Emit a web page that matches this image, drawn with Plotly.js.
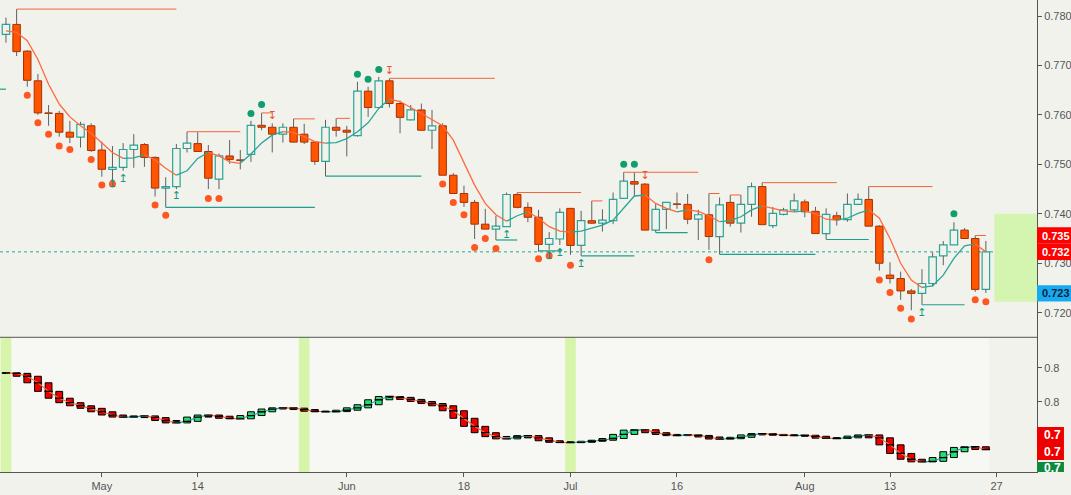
<!DOCTYPE html>
<html><head><meta charset="utf-8">
<script src="https://cdn.plot.ly/plotly-3.0.1.min.js"></script>
<style>html,body{margin:0;padding:0;background:#f2f2ed;}#chart{width:1071px;height:495px;}</style>
</head><body><div id="chart"></div>
<script>
// ---------- data ----------
const dates = ['2018-04-18','2018-04-19','2018-04-20','2018-04-23','2018-04-24','2018-04-25','2018-04-26','2018-04-27','2018-04-30',
'2018-05-01','2018-05-02','2018-05-03','2018-05-04','2018-05-07','2018-05-08','2018-05-09','2018-05-10','2018-05-11','2018-05-14','2018-05-15','2018-05-16','2018-05-17','2018-05-18','2018-05-21','2018-05-22','2018-05-23','2018-05-24','2018-05-25','2018-05-28','2018-05-29','2018-05-30','2018-05-31',
'2018-06-01','2018-06-04','2018-06-05','2018-06-06','2018-06-07','2018-06-08','2018-06-11','2018-06-12','2018-06-13','2018-06-14','2018-06-15','2018-06-18','2018-06-19','2018-06-20','2018-06-21','2018-06-22','2018-06-25','2018-06-26','2018-06-27','2018-06-28','2018-06-29',
'2018-07-02','2018-07-03','2018-07-04','2018-07-05','2018-07-06','2018-07-09','2018-07-10','2018-07-11','2018-07-12','2018-07-13','2018-07-16','2018-07-17','2018-07-18','2018-07-19','2018-07-20','2018-07-23','2018-07-24','2018-07-25','2018-07-26','2018-07-27','2018-07-30','2018-07-31',
'2018-08-01','2018-08-02','2018-08-03','2018-08-06','2018-08-07','2018-08-08','2018-08-09','2018-08-10','2018-08-13','2018-08-14','2018-08-15','2018-08-16','2018-08-17','2018-08-20','2018-08-21','2018-08-22','2018-08-23','2018-08-24'];

const open = [0.7763,0.7783,0.7729,0.7669,0.7604,0.7603,0.7565,0.7555,0.7578,0.7529,
0.7490,0.7494,0.7530,0.7540,0.7514,0.7452,0.7455,0.7532,0.7542,0.7526,
0.7470,0.7517,0.7509,0.7520,0.7579,0.7575,0.7561,0.7575,0.7561,0.7545,
0.7506,0.7575,0.7569,0.7558,0.7648,0.7615,0.7669,0.7623,0.7590,0.7610,
0.7569,0.7578,0.7478,0.7441,0.7423,0.7379,0.7369,0.7374,0.7439,0.7413,
0.7393,0.7338,0.7349,0.7411,0.7336,0.7386,0.7381,0.7386,0.7431,0.7465,
0.7460,0.7367,0.7409,0.7420,0.7419,0.7389,0.7398,0.7354,0.7423,0.7381,
0.7419,0.7455,0.7376,0.7399,0.7408,0.7424,0.7405,0.7360,0.7396,0.7388,
0.7419,0.7429,0.7375,0.7276,0.7269,0.7244,0.7239,0.7259,0.7315,0.7337,
0.7367,0.7350,0.7247];
const close = [0.7783,0.7728,0.7670,0.7604,0.7603,0.7565,0.7555,0.7581,0.7528,0.7490,
0.7494,0.7530,0.7539,0.7514,0.7452,0.7455,0.7532,0.7543,0.7526,0.7472,
0.7517,0.7510,0.7508,0.7579,0.7575,0.7561,0.7575,0.7545,0.7545,0.7506,
0.7575,0.7569,0.7565,0.7648,0.7615,0.7669,0.7623,0.7595,0.7610,0.7569,
0.7578,0.7478,0.7441,0.7423,0.7379,0.7369,0.7375,0.7439,0.7413,0.7393,
0.7338,0.7350,0.7403,0.7336,0.7386,0.7381,0.7387,0.7429,0.7466,0.7460,
0.7367,0.7409,0.7423,0.7419,0.7389,0.7398,0.7354,0.7418,0.7381,0.7419,
0.7455,0.7378,0.7401,0.7408,0.7426,0.7404,0.7360,0.7399,0.7388,0.7419,
0.7429,0.7375,0.7300,0.7269,0.7244,0.7239,0.7259,0.7313,0.7337,0.7367,
0.7350,0.7247,0.7323];
const high = [0.7797,0.7814,0.7731,0.7683,0.7620,0.7608,0.7588,0.7586,0.7583,0.7546,
0.7537,0.7543,0.7561,0.7543,0.7516,0.7474,0.7541,0.7566,0.7565,0.7539,
0.7522,0.7549,0.7529,0.7588,0.7604,0.7583,0.7583,0.7592,0.7582,0.7545,
0.7590,0.7593,0.7578,0.7667,0.7657,0.7677,0.7674,0.7629,0.7620,0.7623,
0.7610,0.7583,0.7482,0.7457,0.7428,0.7410,0.7396,0.7443,0.7443,0.7423,
0.7408,0.7363,0.7411,0.7411,0.7406,0.7426,0.7409,0.7443,0.7484,0.7484,
0.7462,0.7420,0.7423,0.7443,0.7440,0.7408,0.7441,0.7433,0.7438,0.7438,
0.7463,0.7463,0.7414,0.7412,0.7441,0.7429,0.7414,0.7411,0.7404,0.7441,
0.7441,0.7455,0.7377,0.7302,0.7283,0.7248,0.7288,0.7322,0.7345,0.7383,
0.7371,0.7356,0.7345];
const low = [0.7746,0.7719,0.7657,0.7600,0.7578,0.7556,0.7543,0.7534,0.7525,0.7475,
0.7455,0.7487,0.7493,0.7495,0.7435,0.7413,0.7450,0.7524,0.7525,0.7450,
0.7450,0.7501,0.7490,0.7505,0.7569,0.7524,0.7544,0.7544,0.7541,0.7499,
0.7476,0.7556,0.7516,0.7556,0.7596,0.7612,0.7615,0.7563,0.7589,0.7569,
0.7531,0.7478,0.7440,0.7414,0.7349,0.7369,0.7347,0.7374,0.7411,0.7383,
0.7323,0.7327,0.7337,0.7317,0.7315,0.7380,0.7364,0.7379,0.7431,0.7435,
0.7367,0.7362,0.7369,0.7410,0.7379,0.7347,0.7327,0.7318,0.7374,0.7362,
0.7394,0.7378,0.7371,0.7397,0.7404,0.7393,0.7359,0.7348,0.7376,0.7384,
0.7418,0.7375,0.7285,0.7259,0.7226,0.7205,0.7216,0.7253,0.7296,0.7337,
0.7350,0.7242,0.7240];
const ma = [0.7770,0.7767,0.7750,0.7712,0.7662,0.7622,0.7596,0.7578,0.7563,0.7543,
0.7524,0.7512,0.7513,0.7519,0.7509,0.7492,0.7478,0.7487,0.7512,0.7524,
0.7517,0.7505,0.7502,0.7521,0.7543,0.7559,0.7566,0.7564,0.7556,0.7546,
0.7543,0.7544,0.7552,0.7566,0.7584,0.7613,0.7632,0.7627,0.7615,0.7603,
0.7591,0.7578,0.7549,0.7505,0.7458,0.7421,0.7398,0.7385,0.7396,0.7404,
0.7391,0.7374,0.7365,0.7363,0.7365,0.7371,0.7377,0.7387,0.7411,0.7436,
0.7438,0.7421,0.7411,0.7404,0.7408,0.7405,0.7396,0.7384,0.7386,0.7394,
0.7408,0.7416,0.7411,0.7406,0.7404,0.7406,0.7400,0.7389,0.7387,0.7391,
0.7401,0.7408,0.7391,0.7350,0.7300,0.7266,0.7251,0.7254,0.7276,0.7310,
0.7335,0.7339,0.7323];

const bearDotIdx = [2,3,4,5,6,8,9,10,14,15,19,20,41,42,43,44,45,46,50,51,53,66,82,83,84,85,91,92];
const bearDotVal = [0.7640,0.7584,0.7561,0.7537,0.7530,0.7510,0.7458,0.7460,0.7418,0.7397,0.7431,0.7431,0.7460,0.7423,0.7398,0.7332,0.7350,0.7330,0.7309,0.7315,0.7296,0.7307,0.7266,0.7241,0.7209,0.7187,0.7226,0.7222];
const bullDotIdx = [23,24,33,34,35,58,59,89];
const bullDotVal = [0.7603,0.7621,0.7682,0.7672,0.7692,0.7500,0.7500,0.7400];
const upArrowIdx = [10,11,16,47,51,52,54,86];
const upArrowVal = [0.7460,0.7470,0.7435,0.7357,0.7315,0.7321,0.7298,0.7199];
const downArrowIdx = [25,36,60];
const downArrowVal = [0.7598,0.7689,0.7476];

const resStart = [1,17,24,27,31,36,48,55,58,66,68,71,81,91];
const resEnd   = [16,22,25,29,32.3,45.9,54,56,65,67,69,78,87,92];
const resLevel = [0.7814,0.7566,0.7604,0.7592,0.7593,0.7674,0.7443,0.7426,0.7484,0.7441,0.7438,0.7463,0.7455,0.7356];
const supStart = [-0.6,15,30,46,50,54,61,67,77,86];
const supEnd   = [0,29,39,48,52.2,59,64,76,81,90];
const supLevel = [0.7652,0.7413,0.7476,0.7347,0.7325,0.7315,0.7362,0.7318,0.7348,0.7216];

const tickIdx  = [9,18,32,43,53,63,75,83,93];
const tickText = ['May','14','Jun','18','Jul','16','Aug','13','27'];
const priceTicks = [0.720,0.730,0.740,0.750,0.760,0.770,0.780];
const lowerTicks = [0.76,0.78];
const lowerTickText = ['0.8','0.8'];
const bandIdx = [0,28,53];
const zoneX = [92.8,96.8];
const zoneY = [0.7222,0.7400];
const tagValues = [0.7356,0.7323,0.7239];
const tagText = ['0.735','0.732','0.723'];
const lowerTagValues = [0.7406,0.7308,0.7213];
const lowerTagText = ['0.7','0.7','0.7'];

// ---------- styling ----------
const BG = '#f2f2ed', TEAL = '#2aa596', ORANGE = '#ff6a3d', BEAR = '#ff5400', BEARLINE = '#a83000';
const FONT = 'Liberation Sans, Arial, sans-serif';
const split = 0.2854;
const xi = dates.map((d, i) => i);

const traces = [];
// wicks
const wx = [], wy = [];
xi.forEach(i => {
  const top = Math.max(open[i], close[i]), bot = Math.min(open[i], close[i]);
  wx.push(i, i, null, i, i, null); wy.push(high[i], top, null, bot, low[i], null);
});
traces.push({type:'scatter', mode:'lines', x:wx, y:wy, line:{color:'#5f5f5f', width:1}, hoverinfo:'skip'});
// bodies
const bullI = xi.filter(i => close[i] >= open[i]);
const bearI = xi.filter(i => close[i] < open[i]);
const MINH = 0.00005;
traces.push({type:'bar', x:bullI, base:bullI.map(i => open[i]), y:bullI.map(i => Math.max(close[i]-open[i], MINH)),
  width:0.7, marker:{color:BG, line:{color:TEAL, width:1.2}}, hoverinfo:'skip'});
traces.push({type:'bar', x:bearI, base:bearI.map(i => close[i]), y:bearI.map(i => Math.max(open[i]-close[i], MINH)),
  width:0.7, marker:{color:BEAR, line:{color:BEARLINE, width:1}}, hoverinfo:'skip'});

// MA line coloured by direction
function maTraces(yax, width) {
  const out = [];
  const dir = i => (ma[i] >= ma[i-1] ? 1 : -1);
  let start = 0, cur = dir(1);
  for (let i = 2; i <= ma.length; i++) {
    const d = i < ma.length ? dir(i) : 0;
    if (d !== cur) {
      const xs = [], ys = [];
      for (let k = start; k <= i-1; k++) { xs.push(k); ys.push(ma[k]); }
      out.push({type:'scatter', mode:'lines', x:xs, y:ys, yaxis:yax, line:{color: cur > 0 ? TEAL : ORANGE, width}, hoverinfo:'skip'});
      start = i-1; cur = d;
    }
  }
  return out;
}
traces.push(...maTraces('y', 1.3));

// resistance / support lines
function segs(s, e, l) {
  const x = [], y = [];
  s.forEach((v, k) => { x.push(v, e[k], null); y.push(l[k], l[k], null); });
  return {x, y};
}
const rs = segs(resStart, resEnd, resLevel);
traces.push({type:'scatter', mode:'lines', x:rs.x, y:rs.y, line:{color:'#f0643c', width:1}, hoverinfo:'skip'});
const ss = segs(supStart, supEnd, supLevel);
traces.push({type:'scatter', mode:'lines', x:ss.x, y:ss.y, line:{color:'#1f9e8e', width:1.2}, hoverinfo:'skip'});

// dots
traces.push({type:'scatter', mode:'markers', x:bearDotIdx, y:bearDotVal, marker:{color:'#ff5722', size:7}, hoverinfo:'skip'});
traces.push({type:'scatter', mode:'markers', x:bullDotIdx, y:bullDotVal, marker:{color:'#0e9e70', size:7}, hoverinfo:'skip'});
// arrows
traces.push({type:'scatter', mode:'text', x:upArrowIdx, y:upArrowVal, text:upArrowIdx.map(() => '↥'),
  textfont:{family:'DejaVu Sans', size:11, color:'#16987f'}, textposition:'middle center', hoverinfo:'skip'});
traces.push({type:'scatter', mode:'text', x:downArrowIdx, y:downArrowVal, text:downArrowIdx.map(() => '↧'),
  textfont:{family:'DejaVu Sans', size:11, color:'#f05030'}, textposition:'middle center', hoverinfo:'skip'});

// lower panel boxes (span from previous to next MA value)
const boxBase = [], boxH = [], boxCol = [];
xi.forEach(i => {
  const a = ma[Math.max(i-1, 0)], b = ma[Math.min(i+1, ma.length-1)];
  const d = b - a;
  boxBase.push(Math.min(a, b)); boxH.push(Math.max(Math.abs(d), 0.0003));
  boxCol.push(d < -0.0007 ? '#ee0000' : (d > 0.0007 ? '#22e070' : '#111111'));
});
traces.push({type:'bar', x:xi, base:boxBase, y:boxH, yaxis:'y2', width:0.64,
  marker:{color:boxCol, line:{color:'#000', width:1}}, hoverinfo:'skip'});
traces.push(...maTraces('y2', 1.2));
traces.push({type:'scatter', mode:'markers', x:xi, y:ma, yaxis:'y2',
  marker:{symbol:'line-ew', size:6, line:{color:'#000', width:1.3}}, hoverinfo:'skip'});

// ---------- shapes & annotations ----------
const shapes = [];
shapes.push({type:'rect', xref:'x', yref:'paper', x0:-0.6, x1:92.3, y0:0, y1:split, fillcolor:'#f7f7f3', line:{width:0}, layer:'below'});
bandIdx.forEach(i => shapes.push({type:'rect', xref:'x', yref:'paper', x0:i-0.5, x1:i+0.5, y0:0, y1:split, fillcolor:'#d6f5aa', line:{width:0}, layer:'below'}));
shapes.push({type:'rect', xref:'x', yref:'y', x0:zoneX[0], x1:zoneX[1], y0:zoneY[0], y1:zoneY[1], fillcolor:'#d4f5b0', line:{width:0}, layer:'below'});
shapes.push({type:'line', xref:'paper', yref:'y', x0:0, x1:1, y0:close[close.length-1], y1:close[close.length-1], line:{color:'#26a69a', width:1, dash:'dot'}, layer:'below'});
shapes.push({type:'line', xref:'paper', yref:'paper', x0:0, x1:1, y0:split, y1:split, line:{color:'#555', width:1}});

const annotations = [];
const tagHalf = 8.2 / 4945;
const tagColors = ['#ff0000', '#ff0000', '#17aaf0'];
const tagFont = ['#ffffff', '#ffffff', '#0d2240'];
tagValues.forEach((v, k) => {
  shapes.push({type:'rect', xref:'paper', yref:'y', x0:1, x1:1.04, y0:v-tagHalf, y1:v+tagHalf, fillcolor:tagColors[k], line:{width:0}});
  annotations.push({xref:'paper', yref:'y', x:1, y:v, xanchor:'left', yanchor:'middle', xshift:3, showarrow:false,
    text:'<b>'+tagText[k]+'</b>', font:{family:FONT, size:11, color:tagFont[k]}});
});
// lower tags
shapes.push({type:'rect', xref:'paper', yref:'y2', x0:1, x1:1.026, y0:0.72618, y1:0.74542, fillcolor:'#ee0000', line:{width:0}});
shapes.push({type:'rect', xref:'paper', yref:'y2', x0:1, x1:1.026, y0:0.7192, y1:0.72501, fillcolor:'#0e8a3e', line:{width:0}});
lowerTagValues.forEach((v, k) => {
  annotations.push({xref:'paper', yref:'y2', x:1, y:v, xanchor:'left', yanchor:'middle', xshift:5, showarrow:false,
    text:'<b>'+lowerTagText[k]+'</b>', font:{family:FONT, size:12, color:'#ffffff'}});
});

const axisCommon = {showgrid:false, zeroline:false, showline:true, linecolor:'#555', linewidth:1,
  ticks:'outside', ticklen:4, tickcolor:'#555', tickfont:{family:FONT, size:11, color:'#555'}, fixedrange:true};

const layout = {
  width:1071, height:495, margin:{l:0, r:34, t:0, b:23, pad:0},
  paper_bgcolor:BG, plot_bgcolor:BG, showlegend:false, barmode:'overlay', hovermode:false,
  xaxis:Object.assign({}, axisCommon, {range:[-0.56, 96.8], anchor:'y2', tickvals:tickIdx, ticktext:tickText}),
  yaxis:Object.assign({}, axisCommon, {domain:[split, 1], range:[0.71502, 0.78324], side:'right', anchor:'x',
    tickvals:priceTicks, tickformat:'.3f'}),
  yaxis2:Object.assign({}, axisCommon, {domain:[0, split], range:[0.71918, 0.79773], side:'right', anchor:'x',
    tickvals:lowerTicks, ticktext:lowerTickText}),
  shapes, annotations
};
Plotly.newPlot('chart', traces, layout, {staticPlot:true, displayModeBar:false});
</script></body></html>
